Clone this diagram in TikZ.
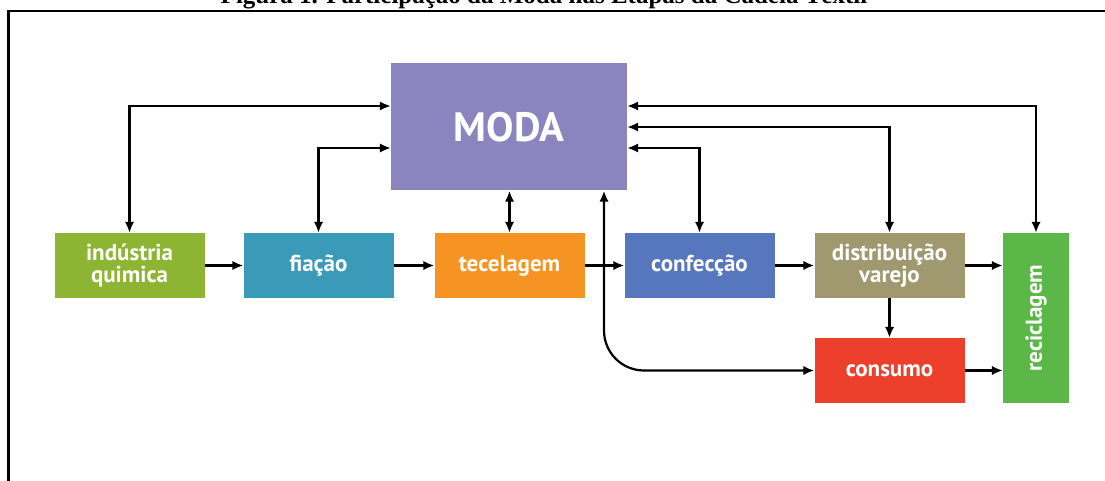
\documentclass[tikz,border=0pt]{standalone}
\usepackage{fontspec}
\setmainfont{Liberation Serif}
\newfontfamily\boxfont{PT Sans}
\usetikzlibrary{arrows.meta}
\definecolor{cInd}{HTML}{8EB434}
\definecolor{cFia}{HTML}{399BB7}
\definecolor{cTec}{HTML}{F59423}
\definecolor{cConf}{HTML}{5676BD}
\definecolor{cDist}{HTML}{A0986E}
\definecolor{cCons}{HTML}{EC402D}
\definecolor{cRec}{HTML}{5BB748}
\definecolor{cModa}{HTML}{8C84BE}
\begin{document}
\begin{tikzpicture}[x=1pt,y=-1pt,
  stage/.style={fill=#1, text=white, font=\boxfont\bfseries\fontsize{23}{22}\selectfont,
    align=center, inner sep=0pt, minimum width=150pt, minimum height=65pt},
  flow/.style={line width=2.2pt, -{Latex[length=11pt,width=9.5pt]}},
  link/.style={line width=2.2pt, {Latex[length=11pt,width=9.5pt]}-{Latex[length=11pt,width=9.5pt]}}]
\useasboundingbox (0,0) rectangle (1105,481);
\clip (0,0) rectangle (1105,481);
\fill[white] (0,0) rectangle (1105,481);
% title (cut by the top edge, as in the reference)
\node[font=\bfseries\fontsize{25}{25}\selectfont, anchor=base, inner sep=0pt] (title) at (544,4)
  {Figura 1. Participação da Moda nas Etapas da Cadeia Têxtil};
% frame
\draw[line width=2.6pt] (1110,11) -- (8.5,11) -- (8.5,490);
% boxes
\node[stage=cModa, minimum width=236pt, minimum height=127pt,
  font=\boxfont\bfseries\fontsize{41}{41}\selectfont] (moda) at (509,127) {MODA};
\node[stage=cInd] (ind) at (129.5,265.5) {indústria\\quimica};
\node[stage=cFia] (fia) at (318.5,265.5) {fiação};
\node[stage=cTec] (tec) at (509.5,265.5) {tecelagem};
\node[stage=cConf] (conf) at (699.5,265.5) {confecção};
\node[stage=cDist] (dist) at (889.5,265.5) {distribuição\\varejo};
\node[stage=cCons] (cons) at (889.5,370.5) {consumo};
\node[stage=cRec, minimum width=66pt, minimum height=170pt] (rec) at (1036,318) {};
\node[rotate=90, text=white, font=\boxfont\bfseries\fontsize{23}{22}\selectfont, inner sep=0pt] (rectext) at (rec.center) {reciclagem};
% helper coordinates
\coordinate (yA) at (0,106);
\coordinate (yC) at (0,148);
\coordinate (xC) at (604,0);
% chain
\draw[flow] (ind) -- (fia);
\draw[flow] (fia) -- (tec);
\draw[flow] (tec) -- (conf);
\draw[flow] (conf) -- (dist);
\draw[flow] (dist.east) -- (rec.west |- dist.east);
\draw[flow] (cons.east) -- (rec.west |- cons.east);
\draw[flow] (dist) -- (cons);
% links with MODA
\draw[link] (moda.west |- yA) -| (ind.north);
\draw[link] (moda.west |- yC) -| (fia.north);
\draw[link] (tec.north |- moda.south) -- (tec.north);
\draw[link] (moda.east |- yA) -| (rec.north);
\draw[link] (moda.east) -| (dist.north);
\draw[link] (moda.east |- yC) -| (conf.north);
\draw[link, rounded corners=40pt] (moda.south -| xC) |- (cons.west);
\end{tikzpicture}
\end{document}
